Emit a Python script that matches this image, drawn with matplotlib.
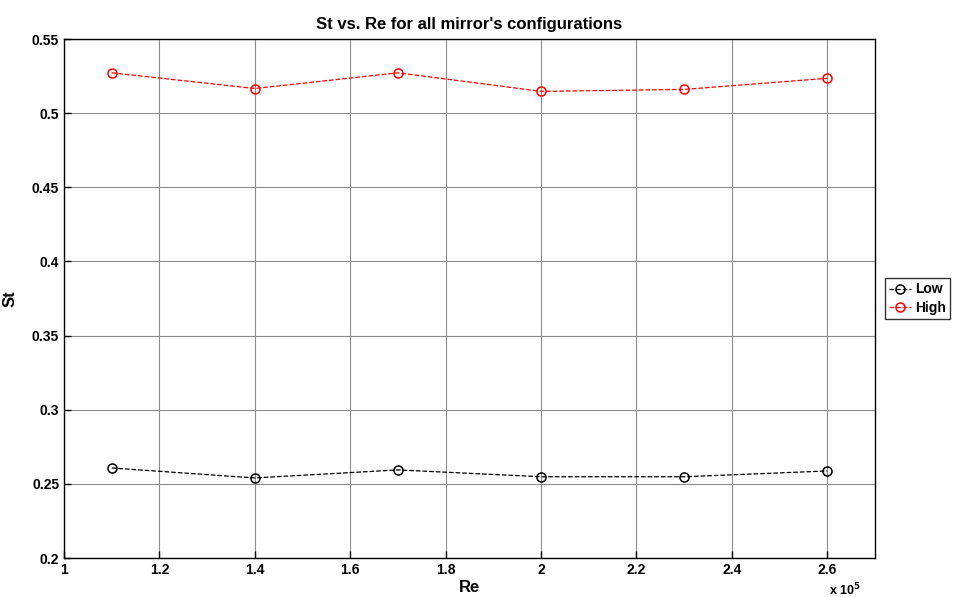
import matplotlib.pyplot as plt
import numpy as np

plt.rcParams['font.family'] = ['Liberation Sans', 'DejaVu Sans']
plt.rcParams['font.weight'] = 'bold'

re = np.array([110000, 140000, 170000, 200000, 230000, 260000])
st_low = [0.2607, 0.2540, 0.2594, 0.2548, 0.2548, 0.2587]
st_high = [0.5272, 0.5166, 0.5272, 0.5147, 0.5160, 0.5235]

fig = plt.figure(figsize=(9.54, 5.97), dpi=100)
ax = fig.add_axes([64/954, 39/597, 811/954, 519/597])

ax.plot(re / 1e5, st_low, 'k--o', mfc='none', ms=6.5, lw=0.9, mew=1.1, label='Low')
ax.plot(re / 1e5, st_high, 'r--o', mfc='none', ms=6.5, lw=0.9, mew=1.1, label='High')

ax.set_xlim(1, 2.7)
ax.set_ylim(0.2, 0.55)
ax.set_xticks(np.arange(1, 2.61, 0.2))
ax.set_xticklabels(['1', '1.2', '1.4', '1.6', '1.8', '2', '2.2', '2.4', '2.6'])
ax.set_yticks(np.arange(0.2, 0.551, 0.05))
ax.set_yticklabels(['0.2', '0.25', '0.3', '0.35', '0.4', '0.45', '0.5', '0.55'])
ax.grid(True, color='#8c8c8c', lw=0.8)
ax.tick_params(direction='in', labelsize=10, length=5, width=1)
for s in ax.spines.values():
    s.set_linewidth(1)

ax.set_xlabel('Re', fontsize=12, fontweight='bold', labelpad=2)
ax.set_ylabel('St', fontsize=12, fontweight='bold', labelpad=10)
ax.set_title("St vs. Re for all mirror's configurations", fontsize=12, fontweight='bold', pad=7)
# exponent label, MATLAB style
fig.text(845/954, 1 - 590/597, r'x 10$^{5}$', fontsize=9, fontweight='bold',
         ha='center', va='center')

ax.legend(loc='center left', bbox_to_anchor=(1.012, 0.5), frameon=True, fancybox=False,
          edgecolor='black', fontsize=10, handlelength=1.6, borderpad=0.3,
          labelspacing=0.3, handletextpad=0.3, borderaxespad=0)

fig.savefig('out.png', dpi=100)
